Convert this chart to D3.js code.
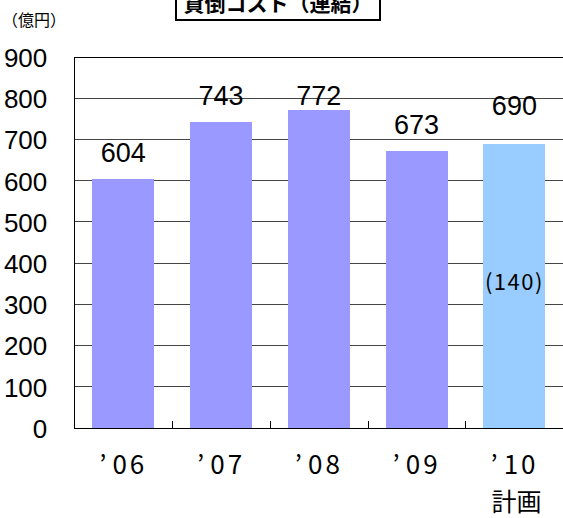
<!DOCTYPE html>
<html><head><meta charset="utf-8">
<script src="https://cdn.jsdelivr.net/npm/d3@7/dist/d3.min.js"></script>
<style>html,body{margin:0;padding:0;background:#fff;overflow:hidden}</style>
</head><body>
<svg id="c" width="563" height="518"></svg>
<script>
const categories = ["’06", "’07", "’08", "’09", "’10"];
const subLabels = ["", "", "", "", "計画"];
const values = [604, 743, 772, 673, 690];
const planned = [false, false, false, false, true];
const innerNote = ["", "", "", "", "(140)"];
const yTicks = [0, 100, 200, 300, 400, 500, 600, 700, 800, 900];
const titleText = "貸倒コスト（連結）";
const unitText = "（億円）";

const svg = d3.select("#c");
const L = 74.3, R = 563.3, T = 57, B = 428;
const x = d3.scaleBand().domain(categories).range([L, R]).paddingInner(0.366).paddingOuter(0.183);
const xb = d3.scaleBand().domain(categories).range([L, R]);
const y = d3.scaleLinear().domain([0, 900]).range([B, T]);
const jp = "'Noto Sans CJK JP', sans-serif";
const ar = "'Liberation Sans', Arial, sans-serif";

// gridlines
svg.append("g").selectAll("line").data(yTicks.filter(d => d > 0 && d < 900)).join("line")
  .attr("x1", L).attr("x2", R).attr("y1", d => y(d)).attr("y2", d => y(d))
  .attr("stroke", "#444").attr("stroke-width", 1).attr("shape-rendering", "crispEdges");

// bars
svg.append("g").selectAll("rect").data(values).join("rect")
  .attr("x", (d, i) => x(categories[i])).attr("width", x.bandwidth())
  .attr("y", d => y(d)).attr("height", d => B - y(d))
  .attr("fill", (d, i) => planned[i] ? "#99CCFF" : "#9999FF")
  .attr("shape-rendering", "crispEdges");

// top border
svg.append("line").attr("x1", L).attr("x2", R).attr("y1", y(900)).attr("y2", y(900))
  .attr("stroke", "#000").attr("shape-rendering", "crispEdges");

// axes
const ya = d3.axisLeft(y).tickValues(yTicks).tickSize(0).tickPadding(27);
const yg = svg.append("g").attr("transform", `translate(${L},0)`).call(ya);
yg.select(".domain").attr("stroke", "#000").attr("shape-rendering", "crispEdges");
yg.selectAll("text").attr("font-family", ar).attr("font-size", 26).attr("fill", "#000").attr("dy", "0.36em");

const xa = d3.axisBottom(xb).tickValues([]).tickSizeOuter(0);
const xg = svg.append("g").attr("transform", `translate(0,${B})`).call(xa);
xg.select(".domain").attr("stroke", "#000").attr("shape-rendering", "crispEdges");
// inner ticks at band boundaries
svg.append("g").selectAll("line").data(categories.slice(1)).join("line")
  .attr("x1", d => Math.round(xb(d)) + 0.5).attr("x2", d => Math.round(xb(d)) + 0.5)
  .attr("y1", B).attr("y2", B - 7).attr("stroke", "#000");

// category labels: full-width-style apostrophe followed by wide digits
const cl = svg.append("g").selectAll("text").data(categories).join("text")
  .attr("x", d => xb(d) + xb.bandwidth() / 2 - 24).attr("y", 474)
  .attr("font-family", jp).attr("font-size", 26).attr("fill", "#000");
cl.append("tspan").text(d => d.slice(0, 1));
cl.append("tspan").attr("dx", 6).attr("letter-spacing", 3).text(d => d.slice(1));
svg.append("g").selectAll("text").data(subLabels).join("text")
  .attr("x", (d, i) => xb(categories[i]) + xb.bandwidth() / 2 + 2).attr("y", 511)
  .attr("text-anchor", "middle").attr("font-family", jp).attr("font-size", 25).attr("fill", "#000")
  .text(d => d);

// value labels (manual nudges as in original)
const lift = [17, 17, 5, 17, 28.6];
svg.append("g").selectAll("text").data(values).join("text")
  .attr("x", (d, i) => xb(categories[i]) + xb.bandwidth() / 2)
  .attr("y", (d, i) => y(d) - lift[i])
  .attr("text-anchor", "middle").attr("font-family", ar).attr("font-size", 27).attr("fill", "#000")
  .text(d => d);

// inner note
svg.append("g").selectAll("text").data(innerNote).join("text")
  .attr("x", (d, i) => xb(categories[i]) + xb.bandwidth() / 2).attr("y", 290)
  .attr("text-anchor", "middle").attr("font-family", jp).attr("font-size", 22)
  .attr("letter-spacing", 1.5).attr("fill", "#000")
  .text(d => d);

// unit
svg.append("text").attr("x", 2).attr("y", 26).attr("font-family", jp).attr("font-size", 16)
  .attr("fill", "#000").text(unitText);

// title box (cut off at top)
svg.append("rect").attr("x", 176).attr("y", -20).attr("width", 204).attr("height", 40)
  .attr("fill", "#fff").attr("stroke", "#000").attr("stroke-width", 2);
svg.append("text").attr("x", 278).attr("y", 11).attr("text-anchor", "middle")
  .attr("font-family", jp).attr("font-weight", "bold").attr("font-size", 21).attr("fill", "#000")
  .text(titleText);
</script>
</body></html>
